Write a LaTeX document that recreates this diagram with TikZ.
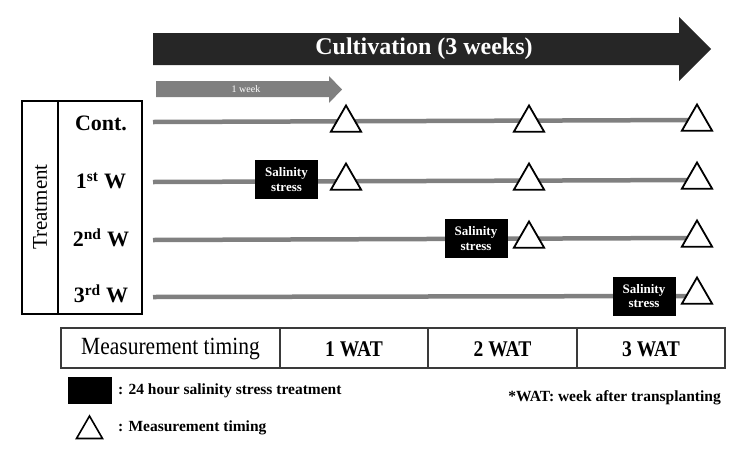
\documentclass[tikz,border=0pt]{standalone}
\usepackage{graphicx}
\usepackage{fontspec}
\setmainfont{Liberation Serif}
\usetikzlibrary{shapes.geometric}
\definecolor{bigarrow}{HTML}{262626}
\definecolor{smallarrow}{HTML}{7F7F7F}
\definecolor{rowline}{HTML}{808080}
\definecolor{tablegray}{HTML}{3A3A3A}
\newcommand{\tallt}[1]{\scalebox{1}[1.15]{#1}}
\tikzset{
  grayline/.style={draw=rowline, line width=4.5pt},
  meastri/.style={regular polygon, regular polygon sides=3, minimum size=35pt, inner sep=0pt, draw=black, line width=1.8pt, fill=white},
  saltbox/.style={fill=black, minimum width=63pt, minimum height=39pt, inner sep=0pt, text=white, align=center, font=\fontsize{13}{14.5}\selectfont\bfseries},
  rowlabel/.style={font=\fontsize{22}{24}\selectfont\bfseries},
  cell/.style={font=\fontsize{21.5}{23}\selectfont},
  cellb/.style={font=\fontsize{19.5}{22}\selectfont\bfseries},
  legtext/.style={anchor=west, inner sep=0pt, font=\fontsize{15.5}{18}\selectfont\bfseries},
}
\begin{document}
\begin{tikzpicture}[x=1pt, y=-1pt]
\useasboundingbox (0,0) rectangle (740,448);
% big arrow
\fill[bigarrow] (153,33) -- (679,33) -- (679,17) -- (711,49) -- (679,81) -- (679,65) -- (153,65) -- cycle;
\node[text=white, font=\fontsize{24}{26}\selectfont\bfseries] (cult) at (424,49) {Cultivation (3 weeks)};
% small arrow
\fill[smallarrow] (156,81) -- (329,81) -- (329,76) -- (342,89.5) -- (329,103) -- (329,97) -- (156,97) -- cycle;
\node[text=white, font=\fontsize{10}{11}\selectfont] (week) at (246,89) {1 week};
% treatment box
\draw[line width=2pt] (22,101) rectangle (142,314);
\draw[line width=2pt] (58,101) -- (58,314);
\node[rotate=90, font=\fontsize{21}{23}\selectfont] (treat) at (40,207) {Treatment};
\node[rowlabel] (r0) at (101,123) {Cont.};
\node[rowlabel] (r1) at (101,181) {1\textsuperscript{st} W};
\node[rowlabel] (r2) at (101,238) {2\textsuperscript{nd} W};
\node[rowlabel] (r3) at (101,294) {3\textsuperscript{rd} W};
% row lines
\coordinate (s0) at (153,122); \coordinate (e0) at (697,120);
\coordinate (s1) at (153,182); \coordinate (e1) at (697,180);
\coordinate (s2) at (153,240); \coordinate (e2) at (697,238);
\coordinate (s3) at (153,297); \coordinate (e3) at (697,296);
\draw[grayline] (s0) -- (e0);
\draw[grayline] (s1) -- (e1);
\draw[grayline] (s2) -- (e2);
\draw[grayline] (s3) -- (e3);
% salinity boxes
\node[saltbox] (b1) at (286.5,179.5) {Salinity\\stress};
\node[saltbox] (b2) at (476,238.5) {Salinity\\stress};
\node[saltbox] (b3) at (644,296) {Salinity\\stress};
% triangles
\node[meastri] (t01) at (346,123) {};
\node[meastri] (t02) at (529,123) {};
\node[meastri] (t03) at (697,122) {};
\node[meastri] (t11) at (346,181) {};
\node[meastri] (t12) at (529,181) {};
\node[meastri] (t13) at (697,180) {};
\node[meastri] (t22) at (529,239) {};
\node[meastri] (t23) at (697,238) {};
\node[meastri] (t33) at (697,295) {};
% bottom table
\draw[tablegray, line width=1.5pt] (61,328) rectangle (725,368);
\draw[tablegray, line width=1.5pt] (280,328) -- (280,368);
\draw[tablegray, line width=1.5pt] (428,328) -- (428,368);
\draw[tablegray, line width=1.5pt] (577,328) -- (577,368);
\node[cell] (mt) at (170.5,349) {\tallt{Measurement timing}};
\node[cellb] (w1) at (354,349) {\tallt{1 WAT}};
\node[cellb] (w2) at (502.5,349) {\tallt{2 WAT}};
\node[cellb] (w3) at (651,349) {\tallt{3 WAT}};
% legend
\fill[black] (68,377) rectangle (112,404);
\node[legtext] (l1) at (118,391) {: 24 hour salinity stress treatment};
\node[regular polygon, regular polygon sides=3, minimum size=30pt, inner sep=0pt, draw=black, line width=1.6pt] (lt) at (89.5,431) {};
\node[legtext] (l2) at (118,428) {: Measurement timing};
\node[anchor=east, inner sep=0pt, font=\fontsize{15.5}{18}\selectfont\bfseries] (note) at (721,398) {*WAT: week after transplanting};
\end{tikzpicture}
\end{document}
